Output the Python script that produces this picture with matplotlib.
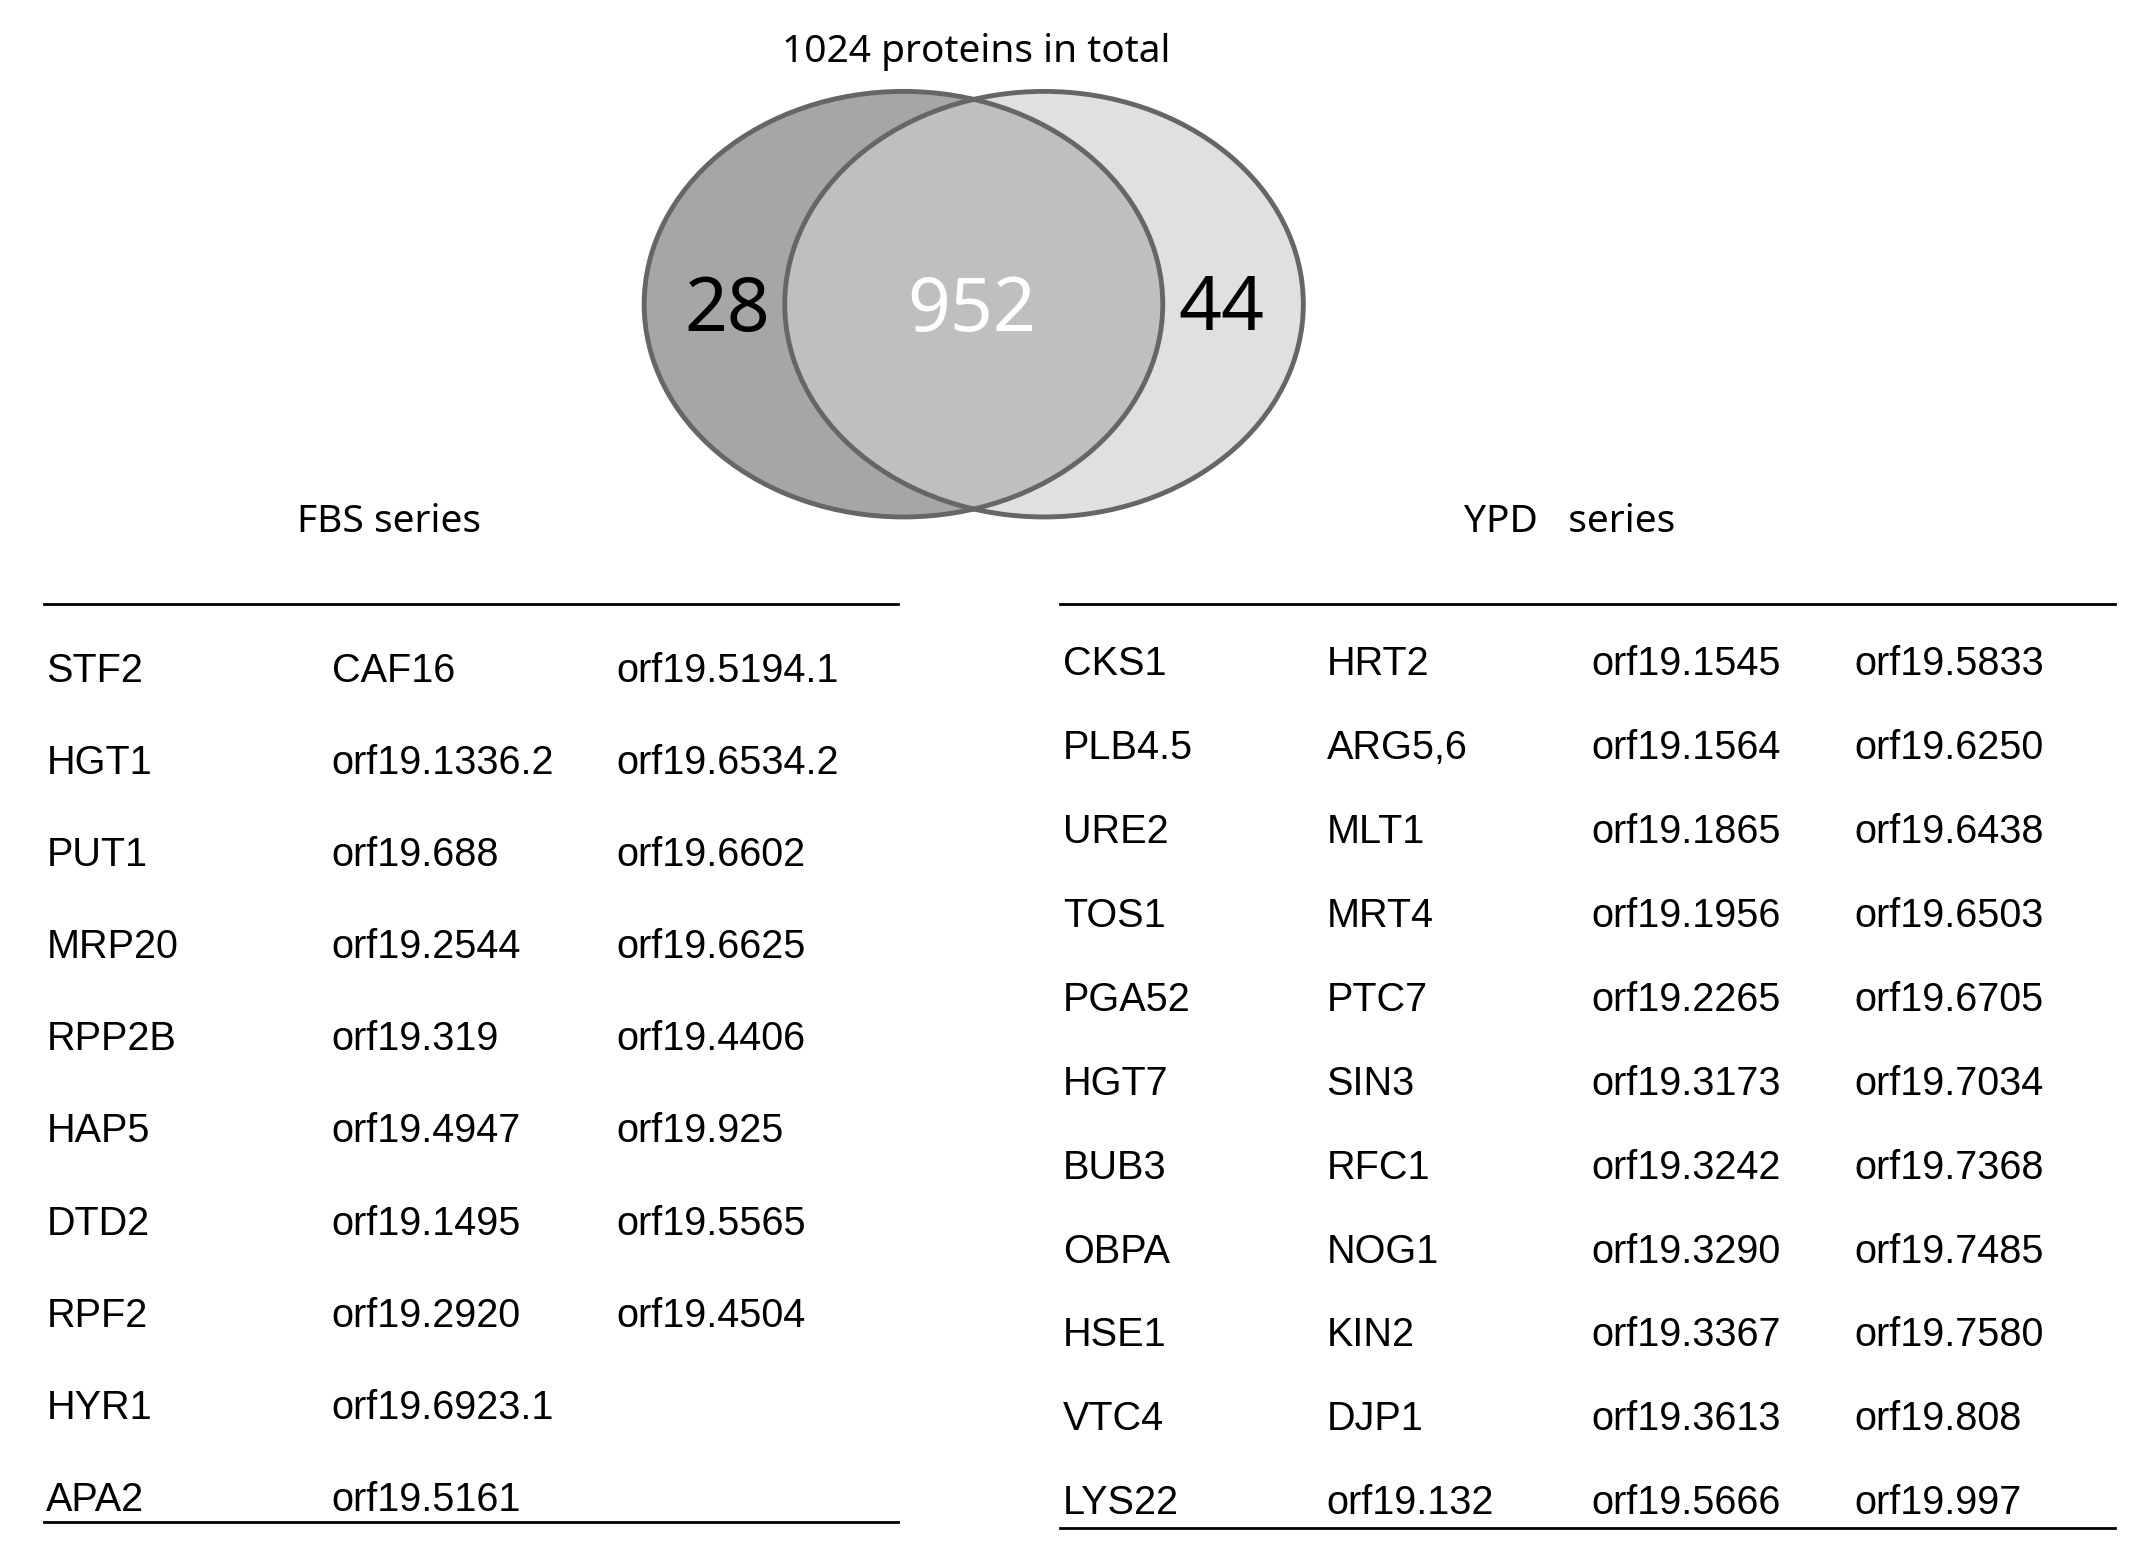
import matplotlib.pyplot as plt
from matplotlib.patches import Ellipse

title = "1024 proteins in total"
venn_counts = [28, 952, 44]

fbs_cols = [
    ["STF2", "HGT1", "PUT1", "MRP20", "RPP2B", "HAP5", "DTD2", "RPF2", "HYR1", "APA2"],
    ["CAF16", "orf19.1336.2", "orf19.688", "orf19.2544", "orf19.319", "orf19.4947",
     "orf19.1495", "orf19.2920", "orf19.6923.1", "orf19.5161"],
    ["orf19.5194.1", "orf19.6534.2", "orf19.6602", "orf19.6625", "orf19.4406",
     "orf19.925", "orf19.5565", "orf19.4504"],
]
ypd_cols = [
    ["CKS1", "PLB4.5", "URE2", "TOS1", "PGA52", "HGT7", "BUB3", "OBPA", "HSE1", "VTC4", "LYS22"],
    ["HRT2", "ARG5,6", "MLT1", "MRT4", "PTC7", "SIN3", "RFC1", "NOG1", "KIN2", "DJP1", "orf19.132"],
    ["orf19.1545", "orf19.1564", "orf19.1865", "orf19.1956", "orf19.2265", "orf19.3173",
     "orf19.3242", "orf19.3290", "orf19.3367", "orf19.3613", "orf19.5666"],
    ["orf19.5833", "orf19.6250", "orf19.6438", "orf19.6503", "orf19.6705", "orf19.7034",
     "orf19.7368", "orf19.7485", "orf19.7580", "orf19.808", "orf19.997"],
]

fig = plt.figure(figsize=(21.29, 15.55), dpi=100)
ax = fig.add_axes([0, 0, 1, 1])
ax.set_xlim(0, 1560)
ax.set_ylim(1140, 0)
ax.axis('off')

# venn
w, h = 380, 312
ax.add_patch(Ellipse((662, 223), w, h, fc='#a6a6a6', ec='none'))
ax.add_patch(Ellipse((765, 223), w, h, fc='#e0e0e0', ec='none'))
clip = Ellipse((662, 223), w, h, transform=ax.transData)
ov = Ellipse((765, 223), w, h, fc='#bfbfbf', ec='none')
ax.add_patch(ov)
ov.set_clip_path(clip)
for cx in (662, 765):
    ax.add_patch(Ellipse((cx, 223), w, h, fc='none', ec='#666666', lw=3.5))

tf = ['Noto Sans', 'DejaVu Sans']
ax.text(715, 38, title, ha='center', va='center', fontsize=28, family=tf)
ax.text(533, 228, str(venn_counts[0]), ha='center', va='center', fontsize=54, family=tf)
ax.text(712, 228, str(venn_counts[1]), ha='center', va='center', fontsize=54, family=tf, color='white')
ax.text(895, 228, str(venn_counts[2]), ha='center', va='center', fontsize=54, family=tf)
ax.text(285, 383, "FBS series", ha='center', va='center', fontsize=28, family=tf)
ax.text(1150, 383, "YPD   series", ha='center', va='center', fontsize=28, family=tf)

cf = ['Liberation Sans', 'DejaVu Sans']
fs = 28.5
# FBS table
ax.plot([32, 658], [443, 443], color='black', lw=2)
ax.plot([32, 658], [1116, 1116], color='black', lw=2)
for x, col in zip([34, 243, 452], fbs_cols):
    for i, s in enumerate(col):
        ax.text(x, 492 + i * 67.5, s, ha='left', va='center', fontsize=fs, family=cf)

# YPD table
ax.plot([777, 1550], [443, 443], color='black', lw=2)
ax.plot([777, 1550], [1120, 1120], color='black', lw=2)
for x, col in zip([779, 972, 1166, 1359], ypd_cols):
    for i, s in enumerate(col):
        ax.text(x, 487 + i * 61.5, s, ha='left', va='center', fontsize=fs, family=cf)

fig.savefig('out.png', dpi=100, facecolor='white')
